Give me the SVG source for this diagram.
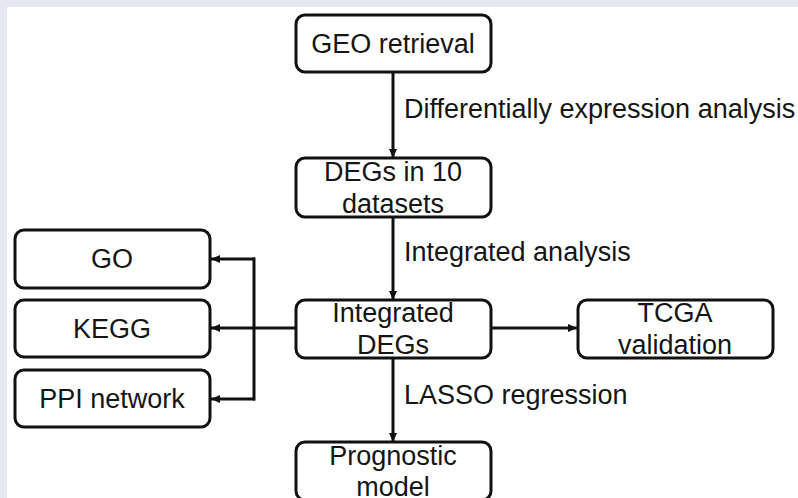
<svg xmlns="http://www.w3.org/2000/svg" width="798" height="498" viewBox="0 0 798 498">
<defs>
<marker id="arr" markerUnits="userSpaceOnUse" markerWidth="9" markerHeight="8" refX="9" refY="4" orient="auto">
<path d="M0,0 L9,4 L0,8 z" fill="#111"/>
</marker>
<style>
.box{fill:#fff;stroke:#111;stroke-width:3}
.t{font-family:"Liberation Sans",Arial,sans-serif;font-size:27px;fill:#151515;text-anchor:middle}
.lbl{font-family:"Liberation Sans",Arial,sans-serif;font-size:27px;fill:#151515}
.c{fill:none;stroke:#111;stroke-width:3}
</style>
</defs>
<rect x="0" y="0" width="798" height="498" fill="#e7e7f1"/>
<rect x="7" y="7" width="791" height="491" fill="#fff"/>

<g id="connectors">
<line class="c" x1="393" y1="72" x2="393" y2="158" marker-end="url(#arr)"/>
<line class="c" x1="393" y1="217" x2="393" y2="300" marker-end="url(#arr)"/>
<line class="c" x1="393" y1="358" x2="393" y2="442" marker-end="url(#arr)"/>
<line class="c" x1="492" y1="328" x2="577" y2="328" marker-end="url(#arr)"/>
<line class="c" x1="295" y1="328" x2="211" y2="328" marker-end="url(#arr)"/>
<line class="c" x1="254" y1="257.5" x2="254" y2="400.5"/>
<line class="c" x1="255" y1="259" x2="211" y2="259" marker-end="url(#arr)"/>
<line class="c" x1="255" y1="399" x2="211" y2="399" marker-end="url(#arr)"/>
<text class="lbl" x="404" y="118">Differentially expression analysis</text>
<text class="lbl" x="404" y="261">Integrated analysis</text>
<text class="lbl" x="404" y="404">LASSO regression</text>
</g>

<g id="geo">
<rect class="box" x="296" y="15" width="195" height="57" rx="9"/>
<text class="t" x="393" y="53">GEO retrieval</text>
</g>
<g id="degs">
<rect class="box" x="296" y="158" width="195" height="59" rx="9"/>
<text class="t" x="393" y="181">DEGs in 10</text>
<text class="t" x="393" y="213">datasets</text>
</g>
<g id="integrated">
<rect class="box" x="296" y="300" width="195" height="58" rx="9"/>
<text class="t" x="393" y="322">Integrated</text>
<text class="t" x="393" y="354">DEGs</text>
</g>
<g id="tcga">
<rect class="box" x="578" y="300" width="195" height="58" rx="9"/>
<text class="t" x="675" y="322">TCGA</text>
<text class="t" x="675" y="354">validation</text>
</g>
<g id="prognostic">
<rect class="box" x="296" y="442" width="195" height="58" rx="9"/>
<text class="t" x="393" y="465">Prognostic</text>
<text class="t" x="393" y="496">model</text>
</g>
<g id="go">
<rect class="box" x="15" y="230" width="195" height="58" rx="9"/>
<text class="t" x="112" y="268">GO</text>
</g>
<g id="kegg">
<rect class="box" x="15" y="300" width="195" height="57" rx="9"/>
<text class="t" x="112" y="338">KEGG</text>
</g>
<g id="ppi">
<rect class="box" x="15" y="370" width="195" height="57" rx="9"/>
<text class="t" x="112" y="408">PPI network</text>
</g>
</svg>
